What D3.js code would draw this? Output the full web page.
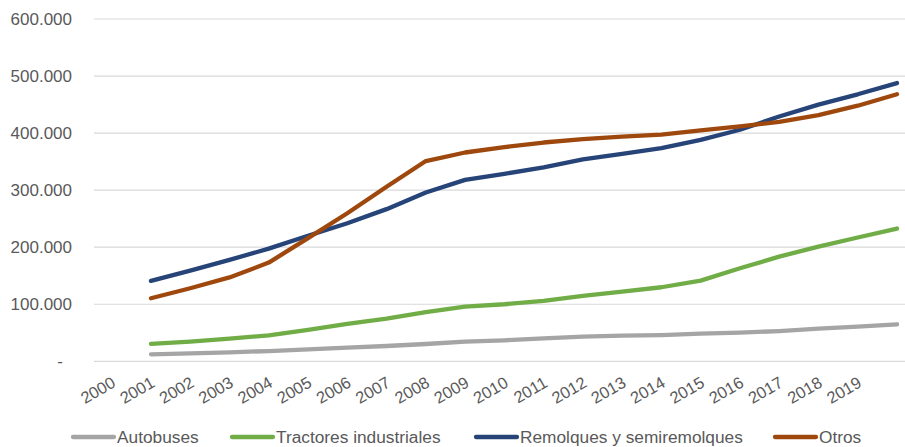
<!DOCTYPE html>
<html>
<head>
<meta charset="utf-8">
<script src="https://cdn.jsdelivr.net/npm/d3@7"></script>
<style>
  html, body { margin: 0; padding: 0; background: #fff; }
  svg text { font-family: "Liberation Sans", Arial, sans-serif; fill: #595959; }
</style>
</head>
<body>
<svg id="chart" width="905" height="447"></svg>
<script>
// Category labels on the horizontal axis
const years = ["2000","2001","2002","2003","2004","2005","2006","2007","2008","2009",
               "2010","2011","2012","2013","2014","2015","2016","2017","2018","2019"];

// Vehicle counts per series (one value per category slot, starting at the second slot)
const autobuses = [12300, 14000, 15800, 18000, 21000, 24000, 26800, 30300, 34400, 36800,
                   40300, 43200, 45000, 46000, 48400, 50200, 53000, 57200, 60700, 64900];
const tractores = [30400, 34500, 39700, 45600, 55000, 65400, 74800, 86000, 95800, 100000,
                   105800, 114600, 122000, 129800, 141400, 163000, 183500, 201000, 217000, 232700];
const remolques = [141000, 159000, 177700, 197500, 220000, 242000, 266700, 295800, 318000, 328600,
                   340000, 354000, 363700, 373700, 388000, 405800, 429000, 450000, 468000, 487700];
const otros     = [110500, 128000, 147000, 173000, 215800, 259600, 306000, 351000, 366000, 375400,
                   383500, 389500, 394000, 397500, 404600, 411600, 419800, 431600, 448000, 468000];

const seriesNames  = ["Autobuses", "Tractores industriales", "Remolques y semiremolques", "Otros"];
const seriesColors = ["#a5a5a5", "#70ad47", "#264478", "#9e480e"];
const seriesValues = [autobuses, tractores, remolques, otros];

const yTicks = [0, 100000, 200000, 300000, 400000, 500000, 600000];

const es = d3.formatLocale({ decimal: ",", thousands: ".", grouping: [3], currency: ["", " €"] });
const fmt = es.format(",.0f");

const svg = d3.select("#chart");

const x = d3.scaleLinear().domain([0, years.length]).range([111.7, 897]);
const y = d3.scaleLinear().domain([0, 600000]).range([361.3, 19]);

// Horizontal gridlines
svg.append("g")
  .selectAll("line")
  .data(yTicks)
  .join("line")
  .attr("x1", 94).attr("x2", 905)
  .attr("y1", d => y(d)).attr("y2", d => y(d))
  .attr("stroke", "#d9d9d9").attr("stroke-width", 1.2);

// Vertical axis labels
const yAxis = svg.append("g")
  .attr("transform", "translate(72,0)")
  .call(d3.axisLeft(y).tickValues(yTicks).tickSize(0).tickPadding(0)
    .tickFormat(d => d === 0 ? "-" : fmt(d)));
yAxis.select(".domain").remove();
yAxis.selectAll("text")
  .style("font-size", "17px")
  .attr("fill", "#595959")
  .attr("dx", d => d === 0 ? -9 : 0);

// Horizontal axis labels (rotated)
svg.append("g")
  .selectAll("text")
  .data(years)
  .join("text")
  .attr("text-anchor", "end")
  .attr("transform", (d, i) => `translate(${x(i) + 5},${386}) rotate(-30)`)
  .style("font-size", "16.5px")
  .text(d => d);

// Series lines
const line = d3.line()
  .x((d, i) => x(i + 1))
  .y(d => y(d));

svg.append("g")
  .selectAll("path")
  .data(seriesValues)
  .join("path")
  .attr("d", d => line(d))
  .attr("fill", "none")
  .attr("stroke", (d, i) => seriesColors[i])
  .attr("stroke-width", 4.3)
  .attr("stroke-linecap", "round")
  .attr("stroke-linejoin", "round");

// Legend
const legendX = [73, 232, 476, 775];
const legend = svg.append("g")
  .selectAll("g")
  .data(seriesNames)
  .join("g")
  .attr("transform", (d, i) => `translate(${legendX[i]},437)`);
legend.append("line")
  .attr("x1", 0).attr("x2", 41)
  .attr("stroke", (d, i) => seriesColors[i])
  .attr("stroke-width", 4.3)
  .attr("stroke-linecap", "round");
legend.append("text")
  .attr("x", 44)
  .attr("y", 6)
  .style("font-size", "17.3px")
  .text(d => d);
</script>
</body>
</html>
